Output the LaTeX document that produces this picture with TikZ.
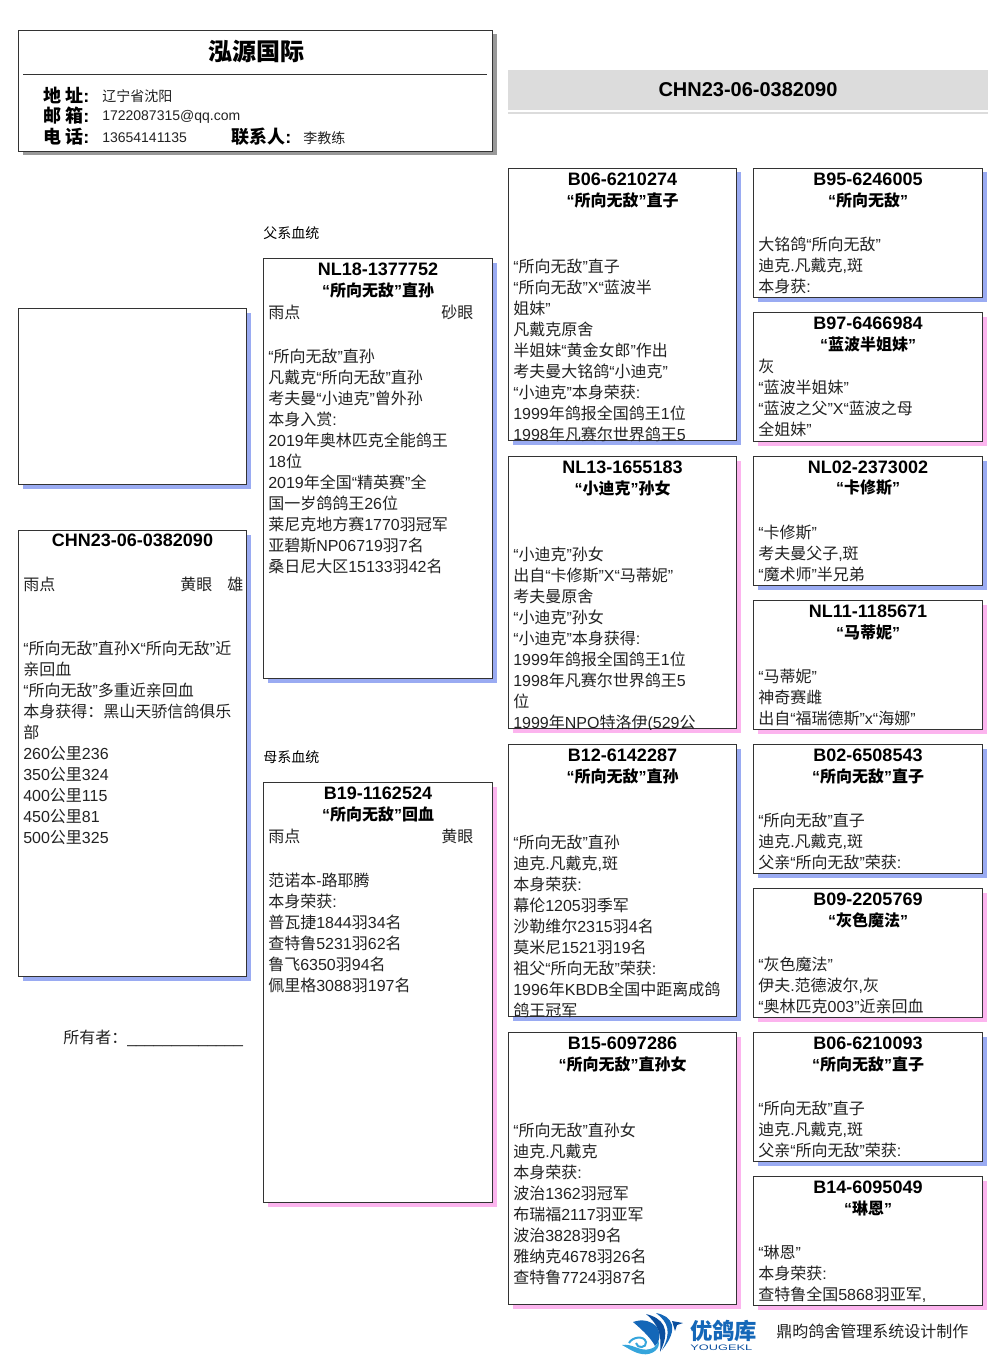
\documentclass[tikz,border=0pt]{standalone}
\usepackage{fontspec}
\usepackage{graphicx}
\usetikzlibrary{shadows}

\setmainfont{Liberation Sans}
\newfontfamily\cjkfam{Noto Sans CJK SC}
\newfontfamily\latfam{Liberation Sans}

% Switch to the CJK family on ideographs and back on everything else
\newXeTeXintercharclass\cjkclass
\newcount\cjkcode
\cjkcode="4E00
\loop
  \XeTeXcharclass\cjkcode=\cjkclass
  \advance\cjkcode by 1
\ifnum\cjkcode<"A000 \repeat
\XeTeXcharclass"FF1A=\cjkclass
\XeTeXinterchartokenstate=1
\XeTeXinterchartoks 0 \cjkclass={\cjkfam}
\XeTeXinterchartoks 4095 \cjkclass={\cjkfam}
\XeTeXinterchartoks \cjkclass 0={\latfam}
\XeTeXinterchartoks 4095 0={\latfam}

\definecolor{cardline}{HTML}{333333}
\definecolor{sireshade}{HTML}{9AABF2}
\definecolor{damshade}{HTML}{FCB4EE}
\definecolor{bandgrey}{HTML}{DCDCDC}
\definecolor{headshade}{HTML}{999999}
\definecolor{logoblue}{HTML}{1467B8}
\definecolor{logodark}{HTML}{0B4F9E}
\definecolor{logocyan}{HTML}{35A5DC}
\definecolor{inktext}{HTML}{222222}

\tikzset{
  card/.style={draw=cardline, fill=white, line width=0.75pt, inner sep=0pt,
    anchor=north west,
    general shadow={fill=#1, shadow xshift=3pt, shadow yshift=-3pt}},
  ringtext/.style={font=\fontsize{13.5pt}{15.75pt}\selectfont\bfseries, text=black, inner sep=0pt},
  nametext/.style={font=\fontsize{12pt}{15.75pt}\selectfont\bfseries, text=black, inner sep=0pt},
  bodytext/.style={font=\fontsize{12pt}{15.75pt}\selectfont, text=inktext, inner sep=0pt,
    align=left, anchor=north west},
  plaintext/.style={font=\fontsize{12pt}{15.75pt}\selectfont, text=inktext, inner sep=0pt, anchor=west},
  headlabel/.style={font=\fontsize{13.5pt}{15.75pt}\selectfont\bfseries, text=black, inner sep=0pt, anchor=west},
  headvalue/.style={font=\fontsize{10.5pt}{15.75pt}\selectfont, text=inktext, inner sep=0pt, anchor=west},
  sidelabel/.style={font=\fontsize{10.5pt}{12pt}\selectfont, text=black, inner sep=0pt, anchor=west},
}

% card: name, left, top, width, height, shade, ring, bird name
\newcommand{\birdcard}[8]{
  \node[card=#6, minimum width=#4*0.75pt, minimum height=#5*0.75pt] (#1) at (#2,#3) {};
  \node[ringtext] (#1-ring) at ([yshift=-11*0.75pt]#1.north) {#7};
  \node[nametext] (#1-name) at ([yshift=-32*0.75pt]#1.north) {#8};
}
% body lines, clipped by the card: name, offset below top, lines
\newcommand{\cardbody}[3]{
  \begin{scope}
    \clip (#1.south west) rectangle (#1.north east);
    \node[bodytext] (#1-body) at ([xshift=5*0.75pt,yshift=-#2*0.75pt]#1.north west) {#3};
  \end{scope}
}

\begin{document}
\begin{tikzpicture}[x=0.75pt, y=-0.75pt]

  \useasboundingbox (0,0) rectangle (1006,1366);

  % Loft header
  \node[card=headshade, minimum width=474*0.75pt, minimum height=121*0.75pt] (head) at (18,30) {};
  \node[font=\fontsize{18pt}{20pt}\selectfont\bfseries, text=black, inner sep=0pt] (loft) at (256,51) {泓源国际};
  \draw[cardline, line width=0.6pt] (23,74.5) -- (487,74.5);
  \node[headlabel] (addrkey) at (43,95) {地 址:};
  \node[headvalue] (addrval) at (102,96) {辽宁省沈阳};
  \node[headlabel] (mailkey) at (43,116) {邮 箱:};
  \node[headvalue] (mailval) at (102,117) {1722087315@qq.com};
  \node[headlabel] (telkey) at (43,137) {电 话:};
  \node[headvalue] (telval) at (102,138) {13654141135};
  \node[headlabel] (contactkey) at (231,137) {联系人:};
  \node[headvalue] (contactval) at (303,138) {李教练};

  % Ring band
  \fill[bandgrey] (508,70) rectangle (988,110);
  \fill[bandgrey] (508,112) rectangle (988,113.6);
  \node[font=\fontsize{15pt}{18pt}\selectfont\bfseries, text=black, inner sep=0pt] (bandring) at (748,90) {CHN23-06-0382090};

  % Photo and the bird itself
  \node[card=sireshade, minimum width=228*0.75pt, minimum height=176*0.75pt] (photo) at (18,308) {};
  \node[card=sireshade, minimum width=228*0.75pt, minimum height=446*0.75pt] (self) at (18,530) {};
  \node[ringtext] (self-ring) at ([yshift=-10*0.75pt]self.north) {CHN23-06-0382090};
  \node[plaintext] (self-eyeleft) at (23,584) {雨点};
  \node[plaintext] (self-eye) at (180,584) {黄眼};
  \node[plaintext] (self-sex) at (227,584) {雄};
  \cardbody{self}{111}{“所向无敌”直孙X“所向无敌”近\\亲回血\\“所向无敌”多重近亲回血\\本身获得：黑山天骄信鸽俱乐\\部\\260公里236\\350公里324\\400公里115\\450公里81\\500公里325}
  \node[plaintext] (owner) at (63,1038) {所有者：\_\_\_\_\_\_\_\_\_\_\_\_\_};

  % Parents
  \node[sidelabel] (sirelabel) at (263,233) {父系血统};
  \node[sidelabel] (damlabel) at (263,757) {母系血统};

  \birdcard{sire}{263}{258}{229}{420}{sireshade}{NL18-1377752}{“所向无敌”直孙}
  \node[plaintext] (sire-plum) at (268,312) {雨点};
  \node[plaintext] (sire-eye) at (441,312) {砂眼};
  \cardbody{sire}{91}{“所向无敌”直孙\\凡戴克“所向无敌”直孙\\考夫曼“小迪克”曾外孙\\本身入赏:\\2019年奥林匹克全能鸽王\\18位\\2019年全国“精英赛”全\\国一岁鸽鸽王26位\\莱尼克地方赛1770羽冠军\\亚碧斯NP06719羽7名\\桑日尼大区15133羽42名}

  \birdcard{dam}{263}{782}{229}{420}{damshade}{B19-1162524}{“所向无敌”回血}
  \node[plaintext] (dam-plum) at (268,836) {雨点};
  \node[plaintext] (dam-eye) at (441,836) {黄眼};
  \cardbody{dam}{91}{范诺本-路耶腾\\本身荣获:\\普瓦捷1844羽34名\\查特鲁5231羽62名\\鲁飞6350羽94名\\佩里格3088羽197名}

  % Grandparents
  \birdcard{gsa}{508}{168}{228}{272}{sireshade}{B06-6210274}{“所向无敌”直子}
  \cardbody{gsa}{91}{“所向无敌”直子\\“所向无敌”X“蓝波半\\姐妹”\\凡戴克原舍\\半姐妹“黄金女郎”作出\\考夫曼大铭鸽“小迪克”\\“小迪克”本身荣获:\\1999年鸽报全国鸽王1位\\1998年凡赛尔世界鸽王5}

  \birdcard{gsb}{508}{456}{228}{272}{damshade}{NL13-1655183}{“小迪克”孙女}
  \cardbody{gsb}{91}{“小迪克”孙女\\出自“卡修斯”X“马蒂妮”\\考夫曼原舍\\“小迪克”孙女\\“小迪克”本身获得:\\1999年鸽报全国鸽王1位\\1998年凡赛尔世界鸽王5\\位\\1999年NPO特洛伊(529公}

  \birdcard{gsc}{508}{744}{228}{272}{sireshade}{B12-6142287}{“所向无敌”直孙}
  \cardbody{gsc}{91}{“所向无敌”直孙\\迪克.凡戴克,斑\\本身荣获:\\幕伦1205羽季军\\沙勒维尔2315羽4名\\莫米尼1521羽19名\\祖父“所向无敌”荣获:\\1996年KBDB全国中距离成鸽\\鸽王冠军}

  \birdcard{gsd}{508}{1032}{228}{272}{damshade}{B15-6097286}{“所向无敌”直孙女}
  \cardbody{gsd}{91}{“所向无敌”直孙女\\迪克.凡戴克\\本身荣获:\\波治1362羽冠军\\布瑞福2117羽亚军\\波治3828羽9名\\雅纳克4678羽26名\\查特鲁7724羽87名}

  % Great-grandparents
  \birdcard{gga}{753}{168}{229}{129}{sireshade}{B95-6246005}{“所向无敌”}
  \cardbody{gga}{69}{大铭鸽“所向无敌”\\迪克.凡戴克,斑\\本身获:}

  \birdcard{ggb}{753}{312}{229}{129}{damshade}{B97-6466984}{“蓝波半姐妹”}
  \cardbody{ggb}{47}{灰\\“蓝波半姐妹”\\“蓝波之父”X“蓝波之母\\全姐妹”}

  \birdcard{ggc}{753}{456}{229}{129}{sireshade}{NL02-2373002}{“卡修斯”}
  \cardbody{ggc}{69}{“卡修斯”\\考夫曼父子,斑\\“魔术师”半兄弟}

  \birdcard{ggd}{753}{600}{229}{129}{damshade}{NL11-1185671}{“马蒂妮”}
  \cardbody{ggd}{69}{“马蒂妮”\\神奇赛雌\\出自“福瑞德斯”x“海娜”}

  \birdcard{gge}{753}{744}{229}{129}{sireshade}{B02-6508543}{“所向无敌”直子}
  \cardbody{gge}{69}{“所向无敌”直子\\迪克.凡戴克,斑\\父亲“所向无敌”荣获:}

  \birdcard{ggf}{753}{888}{229}{129}{damshade}{B09-2205769}{“灰色魔法”}
  \cardbody{ggf}{69}{“灰色魔法”\\伊夫.范德波尔,灰\\“奥林匹克003”近亲回血}

  \birdcard{ggg}{753}{1032}{229}{129}{sireshade}{B06-6210093}{“所向无敌”直子}
  \cardbody{ggg}{69}{“所向无敌”直子\\迪克.凡戴克,斑\\父亲“所向无敌”荣获:}

  \birdcard{ggh}{753}{1176}{229}{129}{damshade}{B14-6095049}{“琳恩”}
  \cardbody{ggh}{69}{“琳恩”\\本身荣获:\\查特鲁全国5868羽亚军,}

  % Logo swooshes
  \fill[logocyan] (622,1345) .. controls (632,1343) and (640,1352) .. (650,1349) .. controls (655,1348) and (658,1344) .. (658,1340) .. controls (662,1348) and (652,1356) .. (642,1354) .. controls (634,1353) and (628,1348) .. (622,1345) -- cycle;
  \draw[logocyan, line width=1.5pt] (629,1343) .. controls (632,1337) and (644,1335) .. (646,1342) .. controls (647,1348) and (637,1349) .. (636,1343);
  \fill[logoblue] (633,1322) .. controls (648,1323) and (657,1332) .. (655,1346) .. controls (652,1340) and (645,1332) .. (633,1322) -- cycle;
  \fill[logoblue] (633,1322) .. controls (644,1318) and (652,1322) .. (657,1327) .. controls (661,1334) and (660,1342) .. (655,1346) .. controls (656,1334) and (648,1326) .. (633,1322) -- cycle;
  \fill[logodark] (646,1314) .. controls (662,1318) and (672,1328) .. (660,1352) .. controls (662,1334) and (658,1324) .. (646,1314) -- cycle;
  \fill[logoblue] (656,1313) .. controls (672,1316) and (680,1328) .. (662,1350) .. controls (672,1332) and (668,1322) .. (656,1313) -- cycle;
  \fill[logodark] (672,1321) -- (683,1323) -- (677,1325) -- (675,1331) -- cycle;

  \node[font=\fontsize{16.75pt}{18pt}\selectfont\bfseries, text=logoblue, inner sep=0pt, anchor=west] (brand) at (690,1331) {优鸽库};
  \node[font=\fontsize{6pt}{7pt}\selectfont, text=logodark, inner sep=0pt, anchor=west, xscale=1.6] (brandlatin) at (690,1347.5) {YOUGEKL};
  \node[plaintext] (maker) at (776,1331) {鼎昀鸽舍管理系统设计制作};

\end{tikzpicture}
\end{document}
